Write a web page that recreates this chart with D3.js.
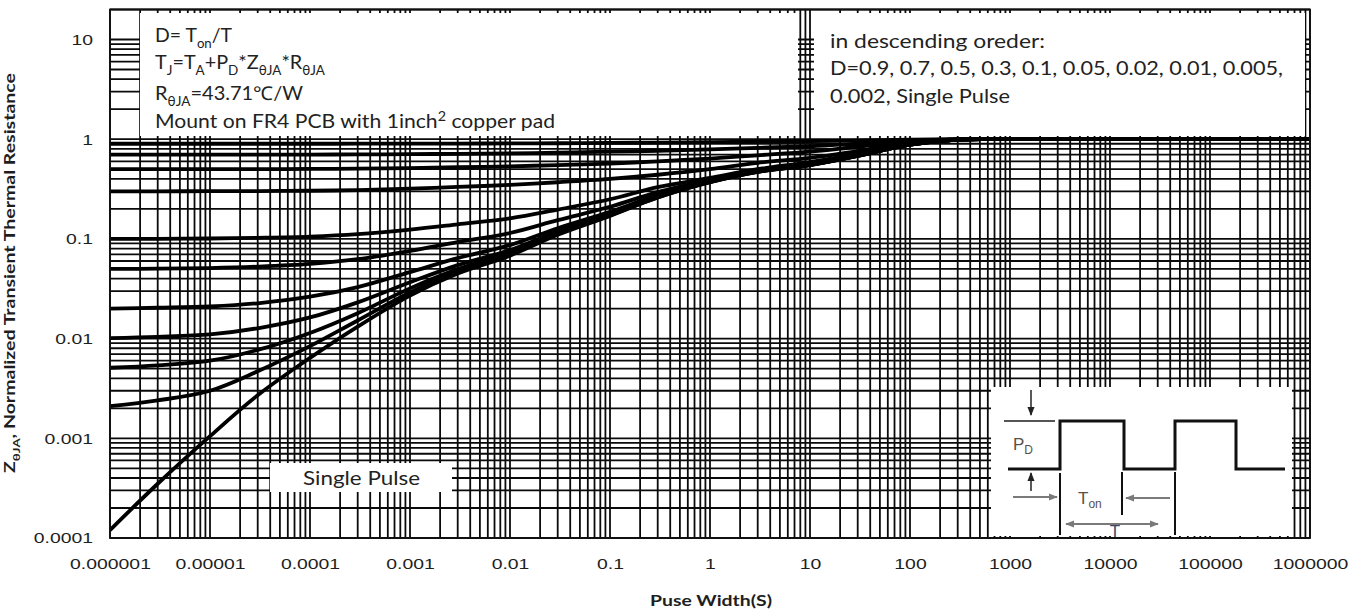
<!DOCTYPE html>
<html><head><meta charset="utf-8">
<script src="https://d3js.org/d3.v7.min.js"></script>
<style>html,body{margin:0;padding:0;background:#fff}svg{display:block}</style>
</head><body>
<svg id="chart" width="1367" height="613"></svg>
<script>
// ---------------- data ----------------
const pulseWidth = [1e-6,3e-6,1e-5,3e-5,1e-4,3e-4,1e-3,3e-3,1e-2,3e-2,0.1,0.3,1,3,10,30,100,300,1000,1e6];
const dutyNames = ["0.9","0.7","0.5","0.3","0.1","0.05","0.02","0.01","0.005","0.002","Single Pulse"];
const zD09   = [0.9,0.9,0.9001,0.9003,0.9006,0.901,0.903,0.905,0.907,0.911,0.917,0.926,0.937,0.947,0.955,0.968,0.988,0.999,1,1];
const zD07   = [0.7,0.7001,0.7003,0.7009,0.702,0.704,0.708,0.714,0.72,0.733,0.75,0.765,0.79,0.82,0.85,0.9,0.964,0.997,1,1];
const zD05   = [0.5,0.5002,0.5006,0.5015,0.503,0.507,0.514,0.523,0.534,0.55,0.57,0.6,0.64,0.69,0.75,0.84,0.94,0.995,1,1];
const zD03   = [0.3,0.3003,0.3008,0.302,0.304,0.309,0.319,0.332,0.348,0.37,0.4,0.44,0.5,0.58,0.65,0.76,0.916,0.993,1,1];
const zD01   = [0.1,0.1003,0.101,0.1026,0.1056,0.1117,0.124,0.14,0.161,0.197,0.25,0.33,0.41,0.5,0.59,0.712,0.892,0.991,1,1];
const zD005  = [0.05,0.0503,0.051,0.0527,0.0561,0.0626,0.0757,0.0928,0.1146,0.154,0.21,0.295,0.39,0.49,0.57,0.696,0.886,0.99,1,1];
const zD002  = [0.02,0.0204,0.021,0.0226,0.0263,0.0329,0.0465,0.0641,0.0866,0.128,0.187,0.275,0.38,0.48,0.56,0.686,0.882,0.99,1,1];
const zD001  = [0.0101,0.0104,0.011,0.0127,0.0163,0.0231,0.0367,0.0546,0.0773,0.119,0.178,0.267,0.375,0.475,0.555,0.683,0.881,0.99,1,1];
const zD0005 = [0.0051,0.0054,0.006,0.0077,0.0114,0.018,0.0319,0.0498,0.0727,0.114,0.174,0.264,0.372,0.472,0.552,0.681,0.88,0.99,1,1];
const zD0002 = [0.0021,0.0024,0.003,0.0047,0.0084,0.0152,0.029,0.047,0.07,0.112,0.172,0.261,0.371,0.471,0.551,0.68,0.88,0.99,1,1];
const zSingle= [0.00012,0.00035,0.00105,0.0027,0.0064,0.0132,0.027,0.045,0.068,0.11,0.17,0.26,0.37,0.47,0.55,0.68,0.88,0.99,1,1];
const xTickLabels = ["0.000001","0.00001","0.0001","0.001","0.01","0.1","1","10","100","1000","10000","100000","1000000"];
const yTickLabels = ["0.0001","0.001","0.01","0.1","1","10"];

const series = [zD09,zD07,zD05,zD03,zD01,zD005,zD002,zD001,zD0005,zD0002,zSingle];

// ---------------- chart ----------------
const svg = d3.select("#chart");
const L = 110, R = 1310, T = 9.5, B = 538;
const x = d3.scaleLog().domain([1e-6, 1e6]).range([L, R]);
const y = d3.scaleLog().domain([1e-4, 20]).range([B, T]);

svg.append("rect").attr("width",1367).attr("height",613).attr("fill","#fff");

const defs = svg.append("defs");
defs.append("clipPath").attr("id","plotClip").append("rect")
  .attr("x",L).attr("y",T).attr("width",R-L).attr("height",B-T);
const mk = (id, color) => defs.append("marker").attr("id",id)
  .attr("viewBox","0 0 10 10").attr("refX",9).attr("refY",5)
  .attr("markerWidth",9).attr("markerHeight",9).attr("markerUnits","userSpaceOnUse")
  .attr("orient","auto-start-reverse")
  .append("path").attr("d","M0,1 L10,5 L0,9 Z").attr("fill",color);
mk("arrG","#7a7a7a");
mk("arrK","#222");

// grid
const grid = svg.append("g").attr("stroke","#0a0a0a").attr("stroke-width",1.8);
grid.selectAll("line.v").data(x.ticks(40)).join("line").attr("class","v")
  .attr("x1",d=>x(d)).attr("x2",d=>x(d)).attr("y1",B).attr("y2",T);
grid.selectAll("line.h").data(y.ticks(40)).join("line").attr("class","h")
  .attr("y1",d=>y(d)).attr("y2",d=>y(d)).attr("x1",L).attr("x2",R);

// curves
const line = d3.line().x((d,i)=>x(pulseWidth[i])).y(d=>y(d)).curve(d3.curveCatmullRom.alpha(0.5));
svg.append("g").attr("clip-path","url(#plotClip)")
  .selectAll("path").data(series).join("path")
  .attr("d",line).attr("fill","none").attr("stroke","#000").attr("stroke-width",3.8)
  .attr("stroke-linejoin","round");

// white annotation panels
const panels = [[140,13,798,136],[814,13,1305,136],[270,463,452,492],[991,387,1292,536]];
svg.append("g").selectAll("rect").data(panels).join("rect")
  .attr("x",d=>d[0]).attr("y",d=>d[1]).attr("width",d=>d[2]-d[0]).attr("height",d=>d[3]-d[1])
  .attr("fill","#fff");

// frame
svg.append("rect").attr("x",L).attr("y",T).attr("width",R-L).attr("height",B-T)
  .attr("fill","none").attr("stroke","#111").attr("stroke-width",1.8);

// axes
const stretch = function(f){ return function(){ const w=this.getComputedTextLength(); d3.select(this).attr("textLength",w*f).attr("lengthAdjust","spacingAndGlyphs"); }; };
const xAxis = svg.append("g").attr("transform",`translate(0,${B})`)
  .call(d3.axisBottom(x).tickValues(xTickLabels.map(Number)).tickFormat((d,i)=>xTickLabels[i]).tickSize(0).tickPadding(20));
const yAxis = svg.append("g").attr("transform",`translate(${L},0)`)
  .call(d3.axisLeft(y).tickValues(yTickLabels.map(Number)).tickFormat((d,i)=>yTickLabels[i]).tickSize(0).tickPadding(17));
[xAxis,yAxis].forEach(a=>{
  a.select(".domain").remove();
  a.selectAll("text").attr("font-family","'Liberation Sans', Arial, sans-serif").attr("font-size",15.5).attr("fill","#1e1e1e")
   .each(stretch(1.25));
});

// rich text helper
const FONT = "Lato, 'Open Sans', sans-serif";
function rich(g, px, py, parts, size, opts={}) {
  const t = g.append("text").attr("x",px).attr("y",py).attr("font-family",FONT)
    .attr("font-size",size).attr("fill",opts.fill||"#222");
  if (opts.weight) t.attr("font-weight",opts.weight);
  if (opts.anchor) t.attr("text-anchor",opts.anchor);
  let shift = 0;
  parts.forEach(p=>{
    const [s,k] = Array.isArray(p)?p:[p,null];
    let target = k==="sub"? size*0.3 : k==="sup"? -size*0.38 : 0;
    const ts = t.append("tspan").text(s).attr("dy", target-shift);
    if (k) ts.attr("font-size", size*0.68);
    shift = target;
  });
  if (opts.width) t.attr("textLength",opts.width).attr("lengthAdjust","spacingAndGlyphs");
  if (opts.rotate) t.attr("transform",`rotate(${opts.rotate},${px},${py})`);
  return t;
}
const ann = svg.append("g");
rich(ann,155,42,["D= T",["on","sub"],"/T"],19,{width:77});
rich(ann,155,69,["T",["J","sub"],"=T",["A","sub"],"+P",["D","sub"],"*Z",["θJA","sub"],"*R",["θJA","sub"]],19,{width:170});
rich(ann,155,100,["R",["θJA","sub"],"=43.71℃/W"],19,{width:148});
rich(ann,155,128,["Mount on FR4 PCB with 1inch",["2","sup"]," copper pad"],19,{width:400});
rich(ann,830,48,["in descending oreder:"],19,{width:215});
rich(ann,830,75,["D=0.9, 0.7, 0.5, 0.3, 0.1, 0.05, 0.02, 0.01, 0.005,"],19,{width:453});
rich(ann,830,103,["0.002, "+dutyNames[dutyNames.length-1]],19,{width:180});
rich(ann,303,485,[dutyNames[dutyNames.length-1]],19,{width:117});

// axis titles
rich(svg,15,273,["Z",["θJA","sub"],", Normalized Transient Thermal Resistance"],15,{weight:"bold",anchor:"middle",rotate:-90,width:400,fill:"#1e1e1e"});
rich(svg,711,606,["Puse Width(S)"],16,{weight:"bold",anchor:"middle",width:122,fill:"#1e1e1e"});

// inset waveform
const ins = svg.append("g");
ins.append("path").attr("d","M1008,469 H1060 V421 H1124 V469 H1175 V421 H1236 V469 H1285")
  .attr("fill","none").attr("stroke","#111").attr("stroke-width",3);
ins.append("line").attr("x1",1004).attr("x2",1055).attr("y1",421).attr("y2",421).attr("stroke","#555").attr("stroke-width",2);
[[1060,473,535],[1122,472,515],[1175,472,535]].forEach(v=>
  ins.append("line").attr("x1",v[0]).attr("x2",v[0]).attr("y1",v[1]).attr("y2",v[2]).attr("stroke","#111").attr("stroke-width",2));
ins.append("line").attr("x1",1031).attr("x2",1031).attr("y1",390).attr("y2",415).attr("stroke","#222").attr("stroke-width",1.5).attr("marker-end","url(#arrK)");
ins.append("line").attr("x1",1031).attr("x2",1031).attr("y1",491).attr("y2",473).attr("stroke","#222").attr("stroke-width",1.5).attr("marker-end","url(#arrK)");
ins.append("line").attr("x1",1013).attr("x2",1057).attr("y1",497).attr("y2",497).attr("stroke","#7a7a7a").attr("stroke-width",2).attr("marker-end","url(#arrG)");
ins.append("line").attr("x1",1170).attr("x2",1126).attr("y1",498).attr("y2",498).attr("stroke","#7a7a7a").attr("stroke-width",2).attr("marker-end","url(#arrG)");
ins.append("line").attr("x1",1066).attr("x2",1158).attr("y1",524).attr("y2",524).attr("stroke","#7a7a7a").attr("stroke-width",2)
  .attr("marker-end","url(#arrG)").attr("marker-start","url(#arrG)");
const IF = "'Liberation Sans', Arial, sans-serif";
ins.append("text").attr("x",1115).attr("y",537).attr("text-anchor","middle").attr("font-family",IF).attr("font-size",17).attr("fill","#3a4a68").text("T");
const pd = ins.append("text").attr("x",1013).attr("y",450).attr("font-family",IF).attr("font-size",17).attr("fill","#5a5048");
pd.append("tspan").text("P"); pd.append("tspan").text("D").attr("font-size",12).attr("dy",4);
const ton = ins.append("text").attr("x",1078).attr("y",504).attr("font-family",IF).attr("font-size",17).attr("fill","#5a5048");
ton.append("tspan").text("T"); ton.append("tspan").text("on").attr("font-size",12).attr("dy",4);
</script>
</body></html>
